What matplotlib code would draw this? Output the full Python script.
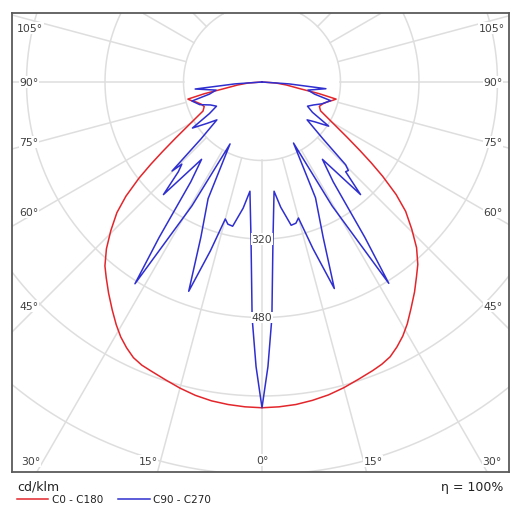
import numpy as np
import matplotlib
matplotlib.use("Agg")
import matplotlib.pyplot as plt

# ---------------- data (cd/klm) ----------------
# angle measured from nadir (0 deg = straight down)
red_angles = [0, 3, 6, 9, 12, 15, 18, 21, 23, 25, 27, 29, 31, 33.3, 36, 38.5, 40.5,
              43, 45.5, 48, 50, 52, 53.5, 55, 57, 60, 63.8, 67, 70, 73, 75.5, 77,
              78.5, 80, 83, 86, 90]
red_c180 = [664, 663, 661, 658, 653, 646, 638, 631, 627, 620, 608, 594, 577, 556, 532,
            510, 493, 465, 432, 398, 362, 318, 282, 248, 210, 168, 134, 128, 132, 140,
            150, 155, 120, 80, 50, 28, 0]
red_c0 = [664, 663, 661, 657, 652, 645, 637, 630, 625, 618, 606, 592, 575, 553, 529,
          506, 489, 462, 428, 394, 357, 312, 277, 244, 207, 166, 133, 127, 131, 139,
          149, 155, 118, 78, 50, 28, 0]

blue_angles = [0, 1.2, 2.4, 4, 6.3, 8.5, 11.5, 13.5, 15, 17, 19.3, 21.5, 24.8, 27.3,
               29.5, 32.2, 33.5, 35.5, 38, 41.2, 43, 44.3, 45.3, 47, 50, 53, 56.5,
               59, 62, 66, 70, 74.8, 77, 80, 84, 86, 90]
blue_c270 = [664, 580, 481, 321, 224, 260, 300, 298, 289, 360, 452, 340, 262, 142,
             290, 486, 380, 250, 200, 305, 250, 234, 258, 170, 120, 140, 170,
             125, 105, 115, 135, 148, 110, 95, 137, 55, 0]
blue_c90 = [664, 580, 481, 321, 224, 258, 298, 296, 287, 355, 446, 340, 260, 140,
            290, 485, 380, 250, 200, 305, 250, 252, 240, 170, 120, 135, 163,
            120, 105, 115, 130, 145, 110, 95, 131, 55, 0]

grid_radii = [160, 320, 480, 640, 800, 960, 1120]
ring_labels = ["320", "480"]
ring_label_values = [320, 480]
angle_label_text = ["105°", "90°", "75°", "60°", "45°", "30°", "15°", "0°",
                    "15°", "30°", "45°", "60°", "75°", "90°", "105°"]

# ---------------- layout ----------------
W, H = 511, 510
CX, CY = 262, 83          # pixel position of the polar centre
K = 0.4906                # px per cd/klm
FL, FT, FR, FB = 12, 14, 509, 473   # frame in pixels


def px2d(px, py):
    return (px - CX) / K, (CY - py) / K


fig = plt.figure(figsize=(W / 100, H / 100), dpi=100)
ax = fig.add_axes([FL / W, (H - FB) / H, (FR - FL) / W, (FB - FT) / H])
x0, y1 = px2d(FL, FT)
x1, y0 = px2d(FR, FB)
ax.set_xlim(x0, x1)
ax.set_ylim(y0, y1)
ax.set_aspect("equal", adjustable="box")
ax.set_xticks([])
ax.set_yticks([])
for s in ax.spines.values():
    s.set_color("#5a5a5a")
    s.set_linewidth(1.3)

gcol = "#dedede"
t = np.linspace(0, 2 * np.pi, 721)
for r in grid_radii:
    ax.plot(r * np.cos(t), r * np.sin(t), color=gcol, lw=1.1, zorder=1)
for a in range(0, 360, 15):
    ar = np.deg2rad(a)
    ax.plot([160 * np.sin(ar), 1400 * np.sin(ar)],
            [-160 * np.cos(ar), -1400 * np.cos(ar)], color=gcol, lw=1.1, zorder=1)


def curve(angles, left_vals, right_vals):
    al = np.deg2rad(np.array(angles))
    lv = np.array(left_vals, float)
    rv = np.array(right_vals, float)
    xl = -lv * np.sin(al)
    yl = -lv * np.cos(al)
    xr = rv * np.sin(al)
    yr = -rv * np.cos(al)
    x = np.concatenate([xl[::-1], xr[1:]])
    y = np.concatenate([yl[::-1], yr[1:]])
    return x, y


red = "#e3262b"
blue = "#2f2fd0"
xr_, yr_ = curve(red_angles, red_c180, red_c0)
ax.plot(xr_, yr_, color=red, lw=1.1, zorder=3)
xb_, yb_ = curve(blue_angles, blue_c270, blue_c90)
ax.plot(xb_, yb_, color=blue, lw=1.1, zorder=4)

tcol = "#404040"
bb = dict(facecolor="white", edgecolor="none", pad=0.6)
for lab, v in zip(ring_labels, ring_label_values):
    ax.text(0, -v, lab, ha="center", va="center", fontsize=7.8, color=tcol,
            bbox=bb, zorder=5)

left_pos = [(30, 29), (29, 83), (29, 143), (29, 213), (29, 307)]
right_pos = [(492, 29), (493, 83), (493, 143), (493, 213), (493, 307)]
bottom_pos = [(31, 462), (148, 462), (262, 461), (373, 462), (492, 462)]
labs_left = angle_label_text[:5]
labs_bottom = angle_label_text[5:10]
labs_right = angle_label_text[10:][::-1]
for lab, (px, py) in zip(labs_left, left_pos):
    ax.text(*px2d(px, py), lab, ha="center", va="center", fontsize=7.8,
            color=tcol, bbox=bb, zorder=5)
for lab, (px, py) in zip(labs_right, right_pos):
    ax.text(*px2d(px, py), lab, ha="center", va="center", fontsize=7.8,
            color=tcol, bbox=bb, zorder=5)
for lab, (px, py) in zip(labs_bottom, bottom_pos):
    ax.text(*px2d(px, py), lab, ha="center", va="center", fontsize=7.8,
            color=tcol, bbox=bb, zorder=5)

# legend / footer
fig.text(17 / W, 1 - 487 / H, "cd/klm", fontsize=9, color="#222222",
         ha="left", va="center")
fig.text(503 / W, 1 - 487 / H, "η = 100%", fontsize=9, color="#222222",
         ha="right", va="center")
fig.add_artist(plt.Line2D([17 / W, 48 / W], [1 - 500 / H, 1 - 500 / H],
                          color=red, lw=1.1))
fig.text(52 / W, 1 - 500 / H, "C0 - C180", fontsize=7.5, color="#222222",
         ha="left", va="center")
fig.add_artist(plt.Line2D([118 / W, 150 / W], [1 - 500 / H, 1 - 500 / H],
                          color=blue, lw=1.1))
fig.text(153 / W, 1 - 500 / H, "C90 - C270", fontsize=7.5, color="#222222",
         ha="left", va="center")

fig.savefig("out.png", dpi=100)
